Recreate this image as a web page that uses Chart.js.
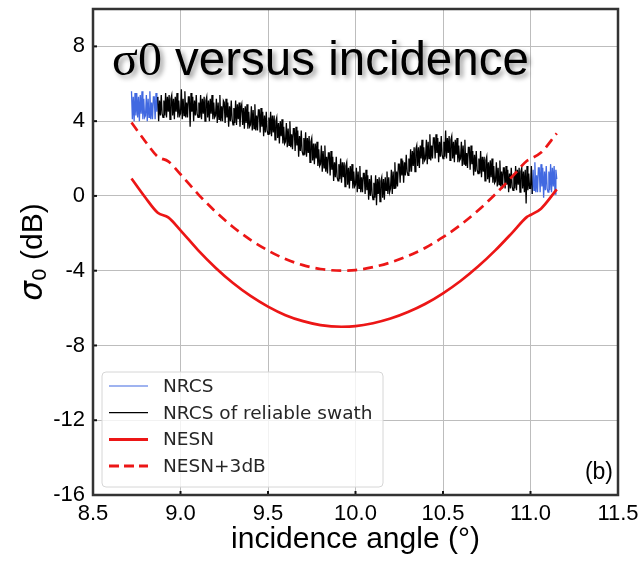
<!DOCTYPE html>
<html>
<head>
<meta charset="utf-8">
<script src="https://cdn.jsdelivr.net/npm/chart.js@4.4.0/dist/chart.umd.min.js"></script>
<style>
  html, body { margin: 0; padding: 0; background: #fff; }
  canvas { display: block; }
</style>
</head>
<body>
<canvas id="chart" width="644" height="562"></canvas>
<script>
// sampling of the measured NRCS curve (incidence angle grid)
const angleStart = 8.72
const angleStep = 0.005
const nrcs = [
  5.6, 4.1, 5.3, 4.0, 5.5, 4.3,
  5.5, 4.2, 5.3, 4.0, 5.4, 4.4, 5.6, 4.1, 5.2, 4.2,
  4.3, 5.4, 4.0, 5.2, 4.2, 5.6, 4.1, 5.0, 4.1, 5.3,
  5.3, 4.1, 5.5, 4.5, 5.3, 4.0, 5.1, 4.3, 5.4, 4.4,
  4.2, 5.1, 4.3, 5.5, 4.2, 5.3, 4.5, 5.4, 4.1, 5.2,
  5.4, 4.3, 5.2, 4.1, 5.3, 4.5, 5.5, 4.2, 5.1, 4.3,
  4.4, 5.7, 4.1, 5.2, 4.3, 5.6, 4.2, 5.0, 4.2, 5.3,
  5.3, 3.7, 5.5, 4.5, 5.3, 4.0, 5.1, 4.3, 5.4, 4.4,
  4.2, 5.0, 4.2, 5.4, 4.1, 5.2, 4.4, 5.3, 4.0, 5.1,
  5.3, 4.2, 5.1, 4.0, 5.2, 4.4, 5.4, 4.1, 5.0, 4.2,
  4.3, 5.2, 3.9, 5.0, 4.1, 5.4, 4.0, 4.8, 4.0, 5.1,
  5.0, 3.9, 5.2, 4.2, 5.0, 3.7, 4.8, 4.0, 5.1, 4.1,
  3.8, 4.7, 3.9, 5.1, 3.8, 4.9, 4.1, 5.0, 3.7, 4.7,
  4.9, 3.8, 4.7, 3.6, 4.8, 3.9, 4.9, 3.6, 4.5, 3.7,
  3.8, 4.8, 3.5, 4.6, 3.6, 4.9, 3.5, 4.3, 3.5, 4.6,
  4.6, 3.4, 4.7, 3.7, 4.5, 3.2, 4.3, 3.4, 4.5, 3.5,
  3.3, 4.2, 3.3, 4.5, 3.2, 4.3, 3.4, 4.3, 3.0, 4.0,
  4.2, 3.1, 3.9, 2.8, 4.0, 3.2, 4.1, 2.8, 3.7, 2.8,
  2.9, 3.9, 2.6, 3.6, 2.7, 4.0, 2.6, 3.3, 2.5, 3.6,
  3.6, 2.4, 3.7, 2.7, 3.5, 2.1, 3.2, 2.4, 3.5, 2.4,
  2.2, 3.1, 2.2, 3.4, 2.1, 3.1, 2.3, 3.2, 1.8, 2.9,
  3.1, 1.9, 2.8, 1.7, 2.8, 2.0, 2.9, 1.6, 2.5, 1.6,
  1.7, 2.7, 1.3, 2.4, 1.5, 2.7, 1.3, 2.1, 1.2, 2.3,
  2.3, 1.1, 2.4, 1.4, 2.1, 0.8, 1.8, 1.0, 2.1, 1.0,
  0.8, 1.7, 0.9, 2.0, 0.7, 1.8, 1.0, 1.8, 0.5, 1.6,
  1.8, 0.6, 1.5, 0.4, 1.6, 0.8, 1.7, 0.4, 1.3, 0.5,
  0.6, 1.5, 0.2, 1.3, 0.4, 1.6, 0.2, 1.0, 0.2, 1.2,
  1.2, 0.1, 1.4, 0.3, 1.1, -0.2, 0.9, 0.0, 1.1, 0.1,
  -0.2, 0.7, -0.1, 1.1, -0.5, 0.9, 0.1, 1.0, -0.3, 0.8,
  1.0, -0.1, 0.9, -0.2, 1.0, 0.3, 1.3, 0.1, 1.0, 0.2,
  0.4, 1.4, 0.1, 1.3, 0.4, 1.8, 0.4, 1.3, 0.5, 1.7,
  1.7, 0.7, 2.0, 1.1, 1.9, 0.7, 1.8, 1.1, 2.2, 1.3,
  1.1, 2.0, 1.3, 2.5, 1.3, 2.4, 1.6, 2.6, 1.3, 2.5,
  2.7, 1.6, 2.6, 1.5, 2.7, 2.0, 3.0, 1.7, 2.6, 1.9,
  2.0, 3.0, 1.7, 2.9, 2.0, 3.3, 1.9, 2.7, 2.0, 3.1,
  3.1, 2.0, 3.3, 2.3, 3.1, 1.8, 2.9, 2.1, 3.2, 2.2,
  2.0, 2.9, 2.1, 3.5, 2.0, 3.1, 2.3, 3.2, 1.9, 3.0,
  3.2, 2.0, 2.9, 1.8, 3.0, 2.2, 3.1, 1.8, 2.7, 1.9,
  2.0, 2.9, 1.6, 2.7, 1.7, 3.0, 1.6, 2.3, 1.5, 2.6,
  2.6, 1.4, 2.7, 1.7, 2.4, 1.1, 2.2, 1.3, 2.4, 1.4,
  1.2, 2.0, 1.2, 2.4, 1.0, 2.1, 1.3, 2.1, 0.8, 1.9,
  2.1, 0.9, 1.8, 0.7, 1.9, 1.0, 2.0, 0.7, 1.6, 0.7,
  0.8, 1.8, 0.5, 1.5, 0.6, 1.9, 0.5, 1.3, 0.4, 1.5,
  1.5, 0.4, 1.6, 0.6, 1.4, 0.2, 1.2, 0.4, 1.5, 0.5,
  0.3, 1.2, 0.4, 1.6, 0.3, 1.4, 0.6, 1.5, 0.2, 1.3,
  1.5, 0.4, 1.3, 0.2, 1.4, -0.4, 1.6, 0.3, 1.2, 0.4,
  0.4, 1.6, 0.1, 1.4, 0.3, 1.8, 0.2, 1.1, 0.2, 1.5,
  1.5, 0.2, 1.7, 0.5, 1.5, -0.1, 1.3, 0.3, 1.6, 0.4,
  0.2, 1.3, 0.3, 1.7, 0.2, 1.5, 0.5, 1.6, 0.1, 1.4,
  0.9
]
// reliable swath: 8.87 .. 11.01
const reliableFrom = 30
const reliableTo = 459

const nesnAngles = [8.72, 8.80, 8.87, 8.93, 9.0, 9.1, 9.2, 9.3, 9.4, 9.5, 9.6, 9.7, 9.8, 9.92, 10.0,
  10.1, 10.2, 10.3, 10.4, 10.5, 10.6, 10.7, 10.8, 10.9, 10.98, 11.0, 11.06, 11.15]
const nesn = [0.93, -0.1, -0.9, -1.15, -1.84, -2.9, -3.84, -4.66, -5.35, -5.92, -6.38, -6.7, -6.91, -7.0, -6.97,
  -6.81, -6.56, -6.21, -5.77, -5.21, -4.55, -3.78, -2.9, -1.92, -1.12, -1.02, -0.68, 0.35]
const nesn3dB = [3.93, 2.9, 2.1, 1.85, 1.16, 0.1, -0.84, -1.66, -2.35, -2.92, -3.38, -3.7, -3.91, -4.0, -3.97,
  -3.81, -3.56, -3.21, -2.77, -2.21, -1.55, -0.78, 0.1, 1.08, 1.88, 1.98, 2.32, 3.35]

const xTicks = [8.5, 9.0, 9.5, 10.0, 10.5, 11.0, 11.5]
const yTicks = [-16, -12, -8, -4, 0, 4, 8]
const legendLabels = ['NRCS', 'NRCS of reliable swath', 'NESN', 'NESN+3dB']

const red = 'rgb(236,22,22)'
const blue = '#4169e1'

let nrcsPts = nrcs.map((v, i) => ({ x: angleStart + i * angleStep, y: v }))
let nesnPts = nesnAngles.map((a, i) => ({ x: a, y: nesn[i] }))
let nesn3Pts = nesnAngles.map((a, i) => ({ x: a, y: nesn3dB[i] }))

const decor = {
  id: 'decor',
  afterDraw(chart) {
    const { ctx, chartArea: a, scales: { x, y } } = chart
    ctx.save()

    // inward ticks
    ctx.strokeStyle = '#111'
    ctx.lineWidth = 2
    xTicks.forEach(v => {
      const px = x.getPixelForValue(v)
      ctx.beginPath(); ctx.moveTo(px, a.bottom); ctx.lineTo(px, a.bottom - 4); ctx.stroke()
    })
    yTicks.forEach(v => {
      const py = y.getPixelForValue(v)
      ctx.beginPath(); ctx.moveTo(a.left, py); ctx.lineTo(a.left + 4, py); ctx.stroke()
    })

    // frame
    ctx.strokeStyle = '#333'
    ctx.lineWidth = 2.5
    ctx.strokeRect(a.left, a.top, a.right - a.left, a.bottom - a.top)

    // title inside plot
    ctx.shadowColor = 'rgba(0,0,0,0.4)'
    ctx.shadowBlur = 5
    ctx.shadowOffsetX = 3
    ctx.shadowOffsetY = 3
    ctx.fillStyle = '#000'
    ctx.textBaseline = 'alphabetic'
    ctx.textAlign = 'left'
    ctx.font = '48px "Liberation Serif"'
    ctx.fillText('σ0', 112, 75)
    let w = ctx.measureText('σ0').width
    ctx.font = '47.5px "Liberation Sans"'
    ctx.fillText(' versus incidence', 112 + w, 75)
    ctx.shadowColor = 'transparent'
    ctx.shadowBlur = 0
    ctx.shadowOffsetX = 0
    ctx.shadowOffsetY = 0

    // panel tag
    ctx.font = '23px "Liberation Sans"'
    ctx.textAlign = 'right'
    ctx.fillText('(b)', a.right - 5, 479)

    // y axis title: sigma_0 (dB)
    ctx.save()
    ctx.translate(42, (a.top + a.bottom) / 2)
    ctx.rotate(-Math.PI / 2)
    ctx.textAlign = 'left'
    const f1 = 'italic 31px "DejaVu Sans"', f2 = '20px "DejaVu Sans"', f3 = '30px "Liberation Sans"'
    ctx.font = f1; const w1 = ctx.measureText('σ').width
    ctx.font = f2; const w2 = ctx.measureText('0').width
    ctx.font = f3; const w3 = ctx.measureText(' (dB)').width
    let sx = -(w1 + w2 + w3) / 2
    ctx.font = f1; ctx.fillText('σ', sx, 0)
    ctx.font = f2; ctx.fillText('0', sx + w1, 4)
    ctx.font = f3; ctx.fillText(' (dB)', sx + w1 + w2, 0)
    ctx.restore()

    // legend
    const lx = 102, ly = 372, lw = 281, lh = 115
    ctx.fillStyle = 'rgba(255,255,255,0.8)'
    ctx.strokeStyle = '#d6d6d6'
    ctx.lineWidth = 1
    ctx.beginPath()
    ctx.roundRect(lx, ly, lw, lh, 4)
    ctx.fill(); ctx.stroke()
    const styles = [
      { c: blue, w: 1.2, d: [] },
      { c: '#000', w: 1.2, d: [] },
      { c: red, w: 3, d: [] },
      { c: red, w: 3, d: [10, 5] }
    ]
    ctx.font = '18.5px "DejaVu Sans"'
    ctx.textAlign = 'left'
    ctx.textBaseline = 'middle'
    legendLabels.forEach((t, i) => {
      const cy = 386 + i * 26.7
      ctx.strokeStyle = styles[i].c
      ctx.lineWidth = styles[i].w
      ctx.setLineDash(styles[i].d)
      ctx.beginPath(); ctx.moveTo(109, cy); ctx.lineTo(148, cy); ctx.stroke()
      ctx.setLineDash([])
      ctx.fillStyle = '#262626'
      ctx.fillText(t, 163, cy + 1)
    })
    ctx.restore()
  }
}

new Chart(document.getElementById('chart'), {
  type: 'line',
  data: {
    datasets: [
      { label: legendLabels[0], data: nrcsPts.slice(0, reliableFrom + 1), borderColor: blue, borderWidth: 1.3, order: 5 },
      { label: legendLabels[0], data: nrcsPts.slice(reliableTo - 1), borderColor: blue, borderWidth: 1.3, order: 4 },
      { label: legendLabels[1], data: nrcsPts.slice(reliableFrom, reliableTo), borderColor: '#000', borderWidth: 1.3, order: 3 },
      { label: legendLabels[2], data: nesnPts, borderColor: red, borderWidth: 2.7, cubicInterpolationMode: 'monotone', order: 2 },
      { label: legendLabels[3], data: nesn3Pts, borderColor: red, borderWidth: 2.7, borderDash: [10, 6], cubicInterpolationMode: 'monotone', order: 1 }
    ]
  },
  options: {
    responsive: false,
    animation: false,
    devicePixelRatio: 1,
    layout: { padding: { top: 9, right: 26, left: 0, bottom: 0 } },
    elements: { point: { radius: 0 }, line: { tension: 0 } },
    plugins: { legend: { display: false }, tooltip: { enabled: false } },
    scales: {
      x: {
        type: 'linear', min: 8.5, max: 11.5,
        afterBuildTicks: s => { s.ticks = xTicks.map(v => ({ value: v })) },
        afterFit: s => { s.height = 67; s.paddingLeft = 0; s.paddingRight = 0 },
        ticks: { callback: v => v.toFixed(1), color: '#000', padding: 6, maxRotation: 0, font: { family: 'Liberation Sans', size: 22 } },
        grid: { color: '#bdbdbd', lineWidth: 1, drawTicks: false },
        border: { display: false },
        title: { display: true, text: 'incidence angle (°)', color: '#000', padding: { top: 0, bottom: 4 }, font: { family: 'Liberation Sans', size: 30 } }
      },
      y: {
        type: 'linear', min: -16, max: 10,
        afterBuildTicks: s => { s.ticks = yTicks.map(v => ({ value: v })) },
        afterFit: s => { s.width = 93; s.paddingTop = 0; s.paddingBottom = 0 },
        ticks: { callback: v => String(v), color: '#000', padding: 8, font: { family: 'Liberation Sans', size: 22 } },
        grid: { color: '#bdbdbd', lineWidth: 1, drawTicks: false },
        border: { display: false }
      }
    }
  },
  plugins: [decor]
})
</script>
</body>
</html>
